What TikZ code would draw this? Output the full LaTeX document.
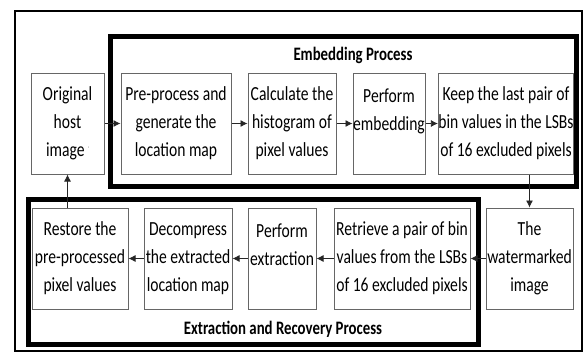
\documentclass[tikz,border=0pt]{standalone}
\usepackage{fontspec}
\setmainfont{Carlito}[FakeStretch=0.78]
\usetikzlibrary{arrows.meta}

\begin{document}
\begin{tikzpicture}[x=1pt,y=-1pt,
	box/.style={draw=black!60,line width=1pt,align=center,minimum height=101pt,inner sep=0pt,font=\fontsize{20}{28}\selectfont},
	title/.style={font=\fontsize{19}{24}\selectfont\bfseries},
	arr/.style={-{Latex[length=7pt,width=7pt]},line width=0.8pt,draw=black!85}]
	    \useasboundingbox[fill=white] (0,0) rectangle (584,354);
	    \draw[line width=2.5pt] (15,11) rectangle (582,351);
	    \draw[line width=5pt] (110.5,36) rectangle (576,186);
	    \draw[line width=5pt] (28,199.5) rectangle (478.5,344.5);
	    \node[title] (embtitle) at (353,55) {Embedding Process};
	    \node[title] (exttitle) at (283,329) {Extraction and Recovery Process};
	    \node[box,minimum width=73pt] (orig) at (67.5,123.5) {Original\\host\\image\,\raisebox{6pt}{\tiny'}};
	    \node[box,minimum width=110pt] (pre) at (176,123.5) {Pre-process and\\generate the\\location map};
	    \node[box,minimum width=88pt] (calc) at (292,123.5) {Calculate the\\histogram of\\pixel values};
	    \node[box,minimum width=72pt] (perf) at (389,123.5) {Perform\\embedding\\~};
	    \node[box,minimum width=132pt] (keep) at (506,123.5) {Keep the last pair of\\bin values in the LSBs\\of 16 excluded pixels};
	    \node[box,minimum width=87pt] (water) at (529.5,258.5) {The\\watermarked\\image};
	    \node[box,minimum width=136pt] (retr) at (402,258.5) {Retrieve a pair of bin\\values from the LSBs\\of 16 excluded pixels};
	    \node[box,minimum width=68pt] (extr) at (282,258.5) {Perform\\extraction\\~};
	    \node[box,minimum width=88pt] (decomp) at (188,258.5) {Decompress\\the extracted\\location map};
	    \node[box,minimum width=96pt] (restore) at (80,258.5) {Restore the\\pre-processed\\pixel values};
	    \draw[arr] (orig) -- (pre);
	    \draw[arr] (pre) -- (calc);
	    \draw[arr] (calc) -- (perf);
	    \draw[arr] (perf) -- (keep);
	    \draw[arr] (keep.south -| water.north) -- (water.north);
	    \draw[arr] (water) -- (retr);
	    \draw[arr] (retr) -- (extr);
	    \draw[arr] (extr) -- (decomp);
	    \draw[arr] (decomp) -- (restore);
	    \draw[arr] (restore.north -| orig.south) -- (orig.south);
	  \end{tikzpicture}
\end{document}
